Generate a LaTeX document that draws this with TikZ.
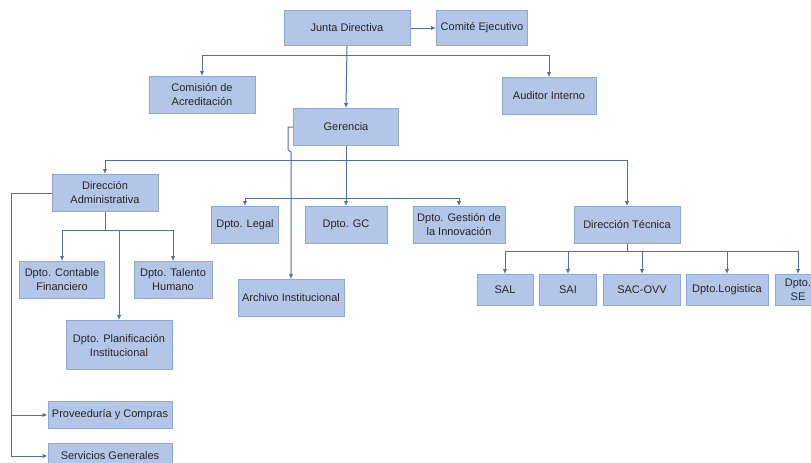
\documentclass[tikz,border=0pt]{standalone}
\usepackage{fontspec}
\setmainfont{Liberation Sans}
\usetikzlibrary{arrows.meta}
\definecolor{boxfill}{HTML}{B4C6E7}
\definecolor{boxline}{HTML}{8EA9D6}
\definecolor{linkcol}{HTML}{4F6FAD}
\tikzset{
  unit/.style={draw=boxline, fill=boxfill, line width=1pt, text=black!85,
    align=center, inner sep=0pt, font=\fontsize{11}{14}\selectfont},
  link/.style={draw=linkcol, line width=1pt},
  arr/.style={link, -{Latex[length=5pt,width=4.5pt]}}
}
\begin{document}
\begin{tikzpicture}[x=1pt, y=-1pt]
   \clip (0,0) rectangle (811,463);
   \fill[white] (0,0) rectangle (811,463);
   % top level
   \node (junta) [unit, minimum width=126, minimum height=35] at (347,28) {Junta Directiva};
   \node (comite) [unit, minimum width=91, minimum height=35] at (482,28) {Comité Ejecutivo};
   \node (comision) [unit, minimum width=106, minimum height=37] at (202,95) {Comisión de\\Acreditación};
   \node (auditor) [unit, minimum width=94, minimum height=37] at (549,96) {Auditor Interno};
   \node (gerencia) [unit, minimum width=105, minimum height=37] at (346,127) {Gerencia};
   % second level
   \node (dadmin) [unit, minimum width=106, minimum height=37] at (105,193) {Dirección\\Administrativa};
   \node (legal) [unit, minimum width=67, minimum height=37] at (245,225) {Dpto. Legal};
   \node (gc) [unit, minimum width=82, minimum height=37] at (346,225) {Dpto. GC};
   \node (innov) [unit, minimum width=92, minimum height=37] at (459,225) {Dpto. Gestión de\\la Innovación};
   \node (dtec) [unit, minimum width=106, minimum height=37] at (627,225) {Dirección Técnica};
   \node (archivo) [unit, minimum width=106, minimum height=37] at (291,298) {Archivo Institucional};
   % administrativa
   \node (contable) [unit, minimum width=85, minimum height=37] at (62,280) {Dpto. Contable\\Financiero};
   \node (talento) [unit, minimum width=78, minimum height=37] at (173,280) {Dpto. Talento\\Humano};
   \node (planif) [unit, minimum width=106, minimum height=49] at (119,345) {Dpto. Planificación\\Institucional};
   \node (proveed) [unit, minimum width=124, minimum height=27] at (110,415) {Proveeduría y Compras};
   \node (servicios) [unit, minimum width=124, minimum height=26] at (110,456) {Servicios Generales};
   % tecnica
   \node (sal) [unit, minimum width=56, minimum height=31] at (505,290) {SAL};
   \node (sai) [unit, minimum width=57, minimum height=31] at (568,290) {SAI};
   \node (sacovv) [unit, minimum width=77, minimum height=31] at (642,290) {SAC-OVV};
   \node (logis) [unit, minimum width=82, minimum height=31] at (727,290) {Dpto.Logistica};
   \node (se) [unit, minimum width=46, minimum height=31] at (798,290) {Dpto.\\SE};
   % bus points
   \coordinate (jbus) at (347,55);
   \coordinate (gbus) at (346,160);
   \coordinate (dbus) at (346,198);
   \coordinate (abus) at (105,230);
   \coordinate (lcorner) at (11,193);
   \coordinate (tbus) at (627,251);
   % links
   \draw[arr] (junta) -- (comite);
   \draw[arr] (junta.south) -- (gerencia.north);
   \draw[arr] (jbus) -| (comision.north);
   \draw[arr] (jbus) -| (auditor.north);
   \draw[arr] (gbus) -| (dadmin.north);
   \draw[arr] (gbus) -| (dtec.north);
   \draw[arr] (gerencia.south) -- (gc.north);
   \draw[arr] (dbus) -| (legal.north);
   \draw[arr] (dbus) -| (innov.north);
   \draw[arr] (gerencia.west) -- ++(-5,0) -- ++(0,23) -- ++(3,2) -- (archivo.north);
   \draw[link] (dadmin.south) -- (abus);
   \draw[arr] (abus) -| (contable.north);
   \draw[arr] (abus) -| (talento.north);
   \draw[arr] (planif.north |- abus) -- (planif.north);
   \draw[link] (dadmin.west) -- (lcorner);
   \draw[arr] (lcorner) |- (servicios.west);
   \draw[arr] (lcorner |- proveed.west) -- (proveed.west);
   \draw[link] (dtec.south) -- (tbus);
   \draw[arr] (tbus) -| (sal.north);
   \draw[arr] (tbus) -| (sai.north);
   \draw[arr] (tbus) -| (sacovv.north);
   \draw[arr] (tbus) -| (logis.north);
   \draw[arr] (tbus) -| (se.north);
\end{tikzpicture}
\end{document}
